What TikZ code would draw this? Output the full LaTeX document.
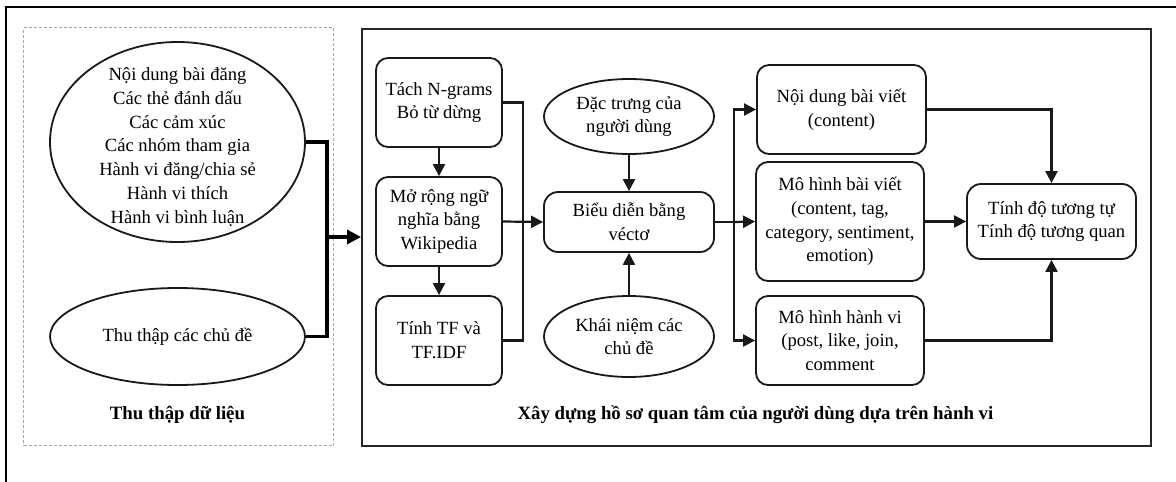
\documentclass[tikz,border=0pt]{standalone}
\usepackage{fontspec}
\setmainfont{Liberation Serif}
\usetikzlibrary{arrows.meta,shapes.geometric}
\begin{document}
\begin{tikzpicture}[x=1pt,y=-1pt,
  every node/.style={font=\fontsize{18.6}{23.7}\selectfont, inner sep=0pt, align=center},
  rbox/.style={draw=black!90, line width=1.8pt, rounded corners=12pt, minimum width=#1},
  rbox/.default=126,
  oval/.style={draw=black!90, line width=1.8pt, ellipse},
  conn/.style={line width=2.2pt, draw=black!90},
  arr/.style={conn, -{Triangle[length=12pt,width=12pt]}},
  thick conn/.style={line width=3.4pt, draw=black},
  title/.style={font=\fontsize{18.8}{23.7}\selectfont\bfseries}
]
\useasboundingbox (0,0) rectangle (1176,482);
% outer frame
\coordinate (fo) at (6,7);
\coordinate (fr) at (1176,7);
\coordinate (fb) at (6,482);
\draw[line width=2.6pt, line cap=rect] (fo) -- (fr);
\draw[line width=1.6pt] (fo) -- (fb);

% data collection (dashed) box
\node[draw=black!35, dashed, dash pattern=on 3pt off 2pt, line width=1pt, anchor=north west,
      minimum width=310, minimum height=418] (collect) at (23,27) {};
\node[oval, minimum width=255, minimum height=200,
  label={[yshift=-5pt]center:{Nội dung bài đăng\\Các thẻ đánh dấu\\Các cảm xúc\\Các nhóm tham gia\\Hành vi đăng/chia sẻ\\Hành vi thích\\Hành vi bình luận}}]
  (e1) at (177.5,142) {};
\node[oval, minimum width=255, minimum height=97] (e2) at (177.5,336.5) {Thu thập các chủ đề};
\node[title] (t1) at (177.5,415) {Thu thập dữ liệu};

% main box
\node[draw=black!85, line width=1.6pt, anchor=north west,
      minimum width=789, minimum height=417] (main) at (361,28) {};
\node[title] (t2) at (755.5,415) {Xây dựng hồ sơ quan tâm của người dùng dựa trên hành vi};

\coordinate (j1) at (327,237);
\draw[thick conn] (e1.east) -| (j1);
\draw[thick conn] (e2.east) -| (j1);
\draw[thick conn, -{Triangle[length=14pt,width=14pt]}] (j1) -- (j1 -| main.west);

% left column
\node[rbox, minimum height=89] (b1) at (439,102.5) {Tách N-grams\\Bỏ từ dừng};
\node[rbox, minimum height=89] (b2) at (439,221.5) {Mở rộng ngữ\\nghĩa bằng\\Wikipedia};
\node[rbox, minimum height=89] (b3) at (439,340.5) {Tính TF và\\TF.IDF};
\draw[arr] (b1.south) -- (b2.north);
\draw[arr] (b2.south) -- (b3.north);
\coordinate (c1) at (523,102.5);
\draw[conn] (b1.east) -- (c1) |- (b3.east);

% centre column
\node[oval, minimum width=170, minimum height=75] (u) at (629,116.5) {Đặc trưng của\\người dùng};
\node[rbox=170, minimum height=60, rounded corners=14pt] (v) at (629,222) {Biểu diễn bằng\\véctơ};
\node[oval, minimum width=170, minimum height=81] (k) at (629,336.5) {Khái niệm các\\chủ đề};
\draw[arr] (b2.east) -- (v.west);
\draw[arr] (u.south) -- (v.north);
\draw[arr] (k.north) -- (v.south);

% right column
\node[rbox=169, minimum height=89] (r1) at (841.5,109.5) {Nội dung bài viết\\(content)};
\node[rbox=168, minimum height=119] (r2) at (840,221.5) {Mô hình bài viết\\(content, tag,\\category, sentiment,\\emotion)};
\node[rbox=168, minimum height=89] (r3) at (840,340.5) {Mô hình hành vi\\(post, like, join,\\comment};
\coordinate (br) at (734,222);
\draw[conn] (v.east) -- (br);
\draw[arr] (br) |- (r1.west);
\draw[arr] (br) -- (r2.west);
\draw[arr] (br) |- (r3.west);

\node[rbox=169, minimum height=75, rounded corners=14pt] (s) at (1051.5,221.5) {Tính độ tương tự\\Tính độ tương quan};
\draw[arr] (r1.east) -| (s.north);
\draw[arr] (r2.east) -- (s.west);
\draw[arr] (r3.east) -| (s.south);
\end{tikzpicture}
\end{document}
